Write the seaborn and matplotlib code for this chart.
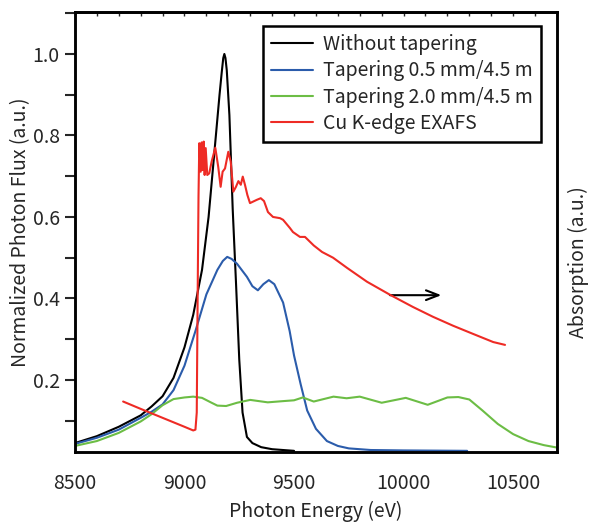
import numpy as np
import pandas as pd
import matplotlib
matplotlib.use('Agg')
import matplotlib.pyplot as plt
from matplotlib.ticker import MultipleLocator, NullFormatter
import seaborn as sns

# photon flux, without tapering
e_notaper = [8500, 8600, 8700, 8800, 8850, 8900, 8950, 9000, 9040, 9080, 9110, 9140,
             9160, 9170, 9177, 9182, 9187, 9193, 9205, 9220, 9235, 9250, 9265, 9285, 9310, 9350,
             9400, 9450, 9500]
f_notaper = [0.045, 0.062, 0.085, 0.113, 0.135, 0.160, 0.205, 0.280, 0.360, 0.470, 0.600, 0.780,
             0.900, 0.955, 0.990, 1.000, 0.990, 0.960, 0.850, 0.620, 0.440, 0.250, 0.120, 0.060, 0.045, 0.035,
             0.030, 0.028, 0.026]

# tapering 0.5 mm/4.5 m
e_taper05 = [8500, 8600, 8700, 8800, 8850, 8900, 8950, 9000, 9050, 9100, 9150, 9175, 9195, 9215, 9240,
             9285, 9310, 9335, 9360, 9385, 9410, 9450, 9480, 9500, 9530, 9560, 9600, 9650,
             9700, 9750, 9850, 10000, 10290]
f_taper05 = [0.043, 0.058, 0.078, 0.107, 0.122, 0.140, 0.175, 0.235, 0.320, 0.410, 0.470, 0.492, 0.502, 0.497, 0.485,
             0.453, 0.430, 0.420, 0.435, 0.445, 0.435, 0.390, 0.320, 0.260, 0.190, 0.125, 0.080, 0.050,
             0.038, 0.032, 0.028, 0.027, 0.026]

# tapering 2.0 mm/4.5 m
e_taper20 = [8480, 8500, 8600, 8700, 8800, 8850, 8900, 8950, 9000, 9040, 9080, 9120, 9150, 9190,
             9240, 9300, 9340, 9380, 9450, 9500, 9540, 9590, 9680, 9740, 9800, 9900, 10010,
             10110, 10200, 10250, 10300, 10360, 10430, 10500, 10570, 10640, 10700]
f_taper20 = [0.034, 0.038, 0.050, 0.070, 0.098, 0.116, 0.138, 0.153, 0.157, 0.159, 0.156, 0.145, 0.137, 0.136,
             0.144, 0.151, 0.148, 0.145, 0.148, 0.150, 0.157, 0.147, 0.159, 0.155, 0.159, 0.144, 0.156,
             0.139, 0.157, 0.158, 0.152, 0.125, 0.092, 0.067, 0.050, 0.040, 0.034]

# Cu K-edge EXAFS (right axis, arbitrary units)
e_exafs = [8720, 8800, 8900, 9000, 9040, 9050, 9056, 9060, 9064, 9067.6, 9074, 9078.5, 9083,
           9087.7, 9092, 9096.8, 9104, 9113, 9124, 9140.6, 9154, 9165, 9174, 9185, 9200,
           9211, 9223, 9235, 9246, 9257, 9266, 9276, 9287, 9299, 9330, 9348, 9363, 9381,
           9404, 9436, 9450, 9481, 9495, 9527, 9550, 9590, 9628, 9678, 9742, 9833, 9938,
           10043, 10134, 10226, 10317, 10409, 10463]
a_exafs = [0.147, 0.129, 0.107, 0.085, 0.076, 0.078, 0.120, 0.400, 0.650, 0.781, 0.711, 0.783, 0.715,
           0.785, 0.703, 0.769, 0.703, 0.707, 0.736, 0.770, 0.723, 0.674, 0.711, 0.719, 0.760,
           0.736, 0.662, 0.674, 0.688, 0.679, 0.699, 0.679, 0.654, 0.634, 0.642, 0.646, 0.639, 0.612,
           0.600, 0.597, 0.593, 0.573, 0.563, 0.551, 0.551, 0.530, 0.514, 0.500, 0.475, 0.441, 0.409,
           0.379, 0.355, 0.333, 0.313, 0.293, 0.286]

labels = ['Without tapering', 'Tapering 0.5 mm/4.5 m', 'Tapering 2.0 mm/4.5 m', 'Cu K-edge EXAFS']
colors = ['black', '#2b5cab', '#6cbd45', '#ee2b25']

sns.set_style('white')
plt.rcParams['font.family'] = ['Noto Sans CJK JP', 'DejaVu Sans']
fs = 14

fig = plt.figure(figsize=(5.9, 5.22), dpi=100)
ax = fig.add_axes([0.127, 0.134, 0.817, 0.843])

sns.lineplot(x=e_notaper, y=f_notaper, ax=ax, color=colors[0], lw=1.5, label=labels[0])
sns.lineplot(x=e_taper05, y=f_taper05, ax=ax, color=colors[1], lw=1.5, label=labels[1])
sns.lineplot(x=e_taper20, y=f_taper20, ax=ax, color=colors[2], lw=1.5, label=labels[2])

ax2 = ax.twinx()
sns.lineplot(x=e_exafs, y=a_exafs, ax=ax2, color=colors[3], lw=1.5, label=labels[3], sort=False)

ax.set_xlim(8500, 10700)
ax.set_ylim(0.023, 1.103)
ax2.set_ylim(0.023, 1.103)
ax.xaxis.set_major_locator(MultipleLocator(500))
ax.xaxis.set_minor_locator(MultipleLocator(100))
ax.yaxis.set_minor_locator(MultipleLocator(0.1))
ax.set_yticks([0.2, 0.4, 0.6, 0.8, 1.0])
ax.set_yticklabels(['0.2', '0.4', '0.6', '0.8', '1.0'])
ax.tick_params(axis='x', which='major', direction='out', length=7, width=1.5, labelsize=fs, pad=8)
ax.tick_params(axis='x', which='minor', direction='out', length=4, width=1.5)
ax.tick_params(axis='y', which='both', direction='out', length=7, width=1.5, labelsize=fs, pad=4)
ax2.set_yticks([])
ax2.set_ylabel('')

# small inward ticks along the top edge
top = ax.secondary_xaxis('top')
top.xaxis.set_major_locator(MultipleLocator(100))
top.xaxis.set_major_formatter(NullFormatter())
top.tick_params(direction='in', length=3, width=1)
top.spines['top'].set_linewidth(1.8)

for a in (ax, ax2):
    for s in a.spines.values():
        s.set_linewidth(1.8)
        s.set_color('black')

ax.set_xlabel('Photon Energy (eV)', fontsize=fs, labelpad=5)
ax.set_ylabel('Normalized Photon Flux (a.u.)', fontsize=fs, labelpad=1)
fig.text(0.98, 0.498, 'Absorption (a.u.)', rotation=90, ha='center', va='center', fontsize=fs)

ax.annotate('', xy=(10185, 0.408), xytext=(9925, 0.408),
            arrowprops=dict(arrowstyle='->,head_length=0.9,head_width=0.35', lw=1.5, color='black'))

ax.get_legend().remove()
ax2.get_legend().remove()
h1, l1 = ax.get_legend_handles_labels()
h2, l2 = ax2.get_legend_handles_labels()
leg = ax2.legend(h1 + h2, l1 + l2, loc='upper left', bbox_to_anchor=(0.39, 0.968),
                 borderaxespad=0, fontsize=fs, handlelength=2.2, handletextpad=0.5,
                 labelspacing=0.28, borderpad=0.4, fancybox=False, framealpha=1)
leg.get_frame().set_edgecolor('black')
leg.get_frame().set_linewidth(1.8)

plt.savefig('out.png', dpi=100)
